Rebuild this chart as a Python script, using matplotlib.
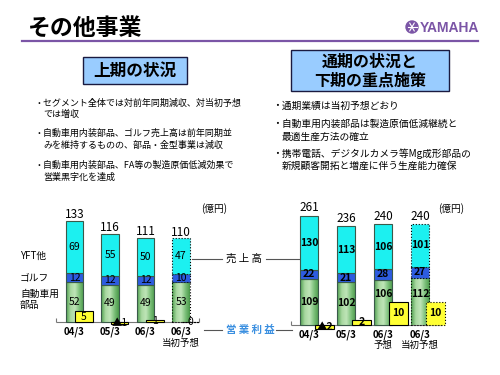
import matplotlib
matplotlib.use("Agg")
import matplotlib.pyplot as plt
import numpy as np
from matplotlib.patches import Rectangle, Circle
from matplotlib.colors import LinearSegmentedColormap

plt.rcParams['font.family'] = ['Noto Sans CJK JP', 'DejaVu Sans']

W, H = 500, 375

# 上期 (億円)
h1_cats = ["04/3", "05/3", "06/3", "06/3"]
h1_sub = ["", "", "", "当初予想"]
h1_auto = [52, 49, 49, 53]
h1_golf = [12, 12, 12, 10]
h1_yft = [69, 55, 50, 47]
h1_total = [133, 116, 111, 110]
h1_profit = [5, -1, 1, 0]

# 通期 (億円)
fy_cats = ["04/3", "05/3", "06/3", "06/3"]
fy_sub = ["", "", "予想", "当初予想"]
fy_auto = [109, 102, 106, 112]
fy_golf = [22, 21, 28, 27]
fy_yft = [130, 113, 106, 101]
fy_total = [261, 236, 240, 240]
fy_profit = [-2, 2, 10, 10]

left_bullets = [
    ["セグメント全体では対前年同期減収、対当初予想", "では増収"],
    ["自動車用内装部品、ゴルフ売上高は前年同期並", "みを維持するものの、部品・金型事業は減収"],
    ["自動車用内装部品、FA等の製造原価低減効果で", "営業黒字化を達成"],
]
right_bullets = [
    ["通期業績は当初予想どおり"],
    ["自動車用内装部品は製造原価低減継続と", "最適生産方法の確立"],
    ["携帯電話、デジタルカメラ等Mg成形部品の", "新規顧客開拓と増産に伴う生産能力確保"],
]

CYAN = '#1cf0f0'
BLUE = '#2d5ce0'
YELLOW = '#ffff33'
PURPLE = '#7b55a6'
green_cmap = LinearSegmentedColormap.from_list('g', ['#4f9f4f', '#a8d8a0', '#bfe5b8', '#7cc07a', '#4a9a4a'])

fig = plt.figure(figsize=(5, 3.75), dpi=100)

# 背景 (ピクセル座標)
bg = fig.add_axes([0, 0, 1, 1])
bg.set_xlim(0, W)
bg.set_ylim(H, 0)
bg.axis('off')

bg.text(28, 28, "その他事業", fontsize=16.5, fontweight='bold', ha='left', va='center')
bg.plot([22, 478], [41, 41], color=PURPLE, lw=1.6)

# YAMAHA ロゴ
bg.add_patch(Circle((412, 27), 6, color=PURPLE))
for a in (0, 60, 120):
    r = np.deg2rad(a)
    bg.plot([412 - 4.5 * np.cos(r), 412 + 4.5 * np.cos(r)],
            [27 - 4.5 * np.sin(r), 27 + 4.5 * np.sin(r)], color='white', lw=0.8)
bg.text(420, 28, "YAMAHA", fontsize=10, fontweight='bold', color=PURPLE,
        family='Liberation Sans', ha='left', va='center')

# 見出しボックス
bg.add_patch(Rectangle((83, 57), 104, 27, facecolor='#99ccff', edgecolor='#1a1a40', lw=1))
bg.text(135, 71, "上期の状況", fontsize=12, fontweight='bold', ha='center', va='center')
bg.add_patch(Rectangle((291, 50), 158, 41, facecolor='#99ccff', edgecolor='#1a1a40', lw=1))
bg.text(370, 62, "通期の状況と", fontsize=11.5, fontweight='bold', ha='center', va='center')
bg.text(370, 81, "下期の重点施策", fontsize=11.5, fontweight='bold', ha='center', va='center')

# 箇条書き
def bullets(items, xt, ys, fs):
    k = 0
    for item in items:
        for j, line in enumerate(item):
            if j == 0:
                bg.text(xt, ys[k], "・" + line, fontsize=fs, ha='left', va='center')
            else:
                bg.text(xt + fs * 100 / 72, ys[k], line, fontsize=fs, ha='left', va='center')
            k += 1

bullets(left_bullets, 34.5, [103, 114, 133, 145, 165, 177], 6.5)
bullets(right_bullets, 272, [106, 124, 137, 154, 166], 7)

# 凡例・中央ラベル
bg.text(214, 209, "(億円)", fontsize=7, ha='center', va='center')
bg.text(451, 209, "(億円)", fontsize=7, ha='center', va='center')
bg.text(20, 256, "YFT他", fontsize=7, ha='left', va='center')
bg.text(20, 278, "ゴルフ", fontsize=7, ha='left', va='center')
bg.text(20, 294, "自動車用", fontsize=7, ha='left', va='center')
bg.text(20, 305, "部品", fontsize=7, ha='left', va='center')

bg.text(244, 259, "売 上 高", fontsize=7.5, ha='center', va='center')
bg.plot([192, 222], [259, 259], color='#555555', lw=0.8)
bg.plot([266, 299], [259, 259], color='#555555', lw=0.8)
bg.text(250, 330, "営 業 利 益", fontsize=7.5, fontweight='bold', color='#3a8fe0', ha='center', va='center')
bg.plot([204, 222], [330, 330], color='#555555', lw=0.8)
bg.plot([276, 292], [330, 330], color='#555555', lw=0.8)


def px_rect(x0, x1, y0, y1):
    return [x0 / W, 1 - y1 / H, (x1 - x0) / W, (y1 - y0) / H]


def draw_chart(box, xlim, sscale, pscale, base, cats, subs, auto, golf, yft, total, profit,
               off, bold, tot_pad):
    y0, y1 = box[2], box[3]
    below, above = y1 - base[2], base[2] - y0
    ax = fig.add_axes(px_rect(*box))
    ax.patch.set_alpha(0)
    x = np.arange(len(cats))
    w = 0.49
    fw = 'bold' if bold else 'normal'
    grad = np.linspace(0, 1, 64).reshape(1, -1)
    for i in range(len(cats)):
        est = i == len(cats) - 1
        ls = ':' if est else '-'
        ec = 'black' if est else '#3a5a4a'
        b = ax.bar(x[i], auto[i], w, color='none', edgecolor=ec, linestyle=ls, lw=0.8, zorder=3)
        im = ax.imshow(grad, extent=(x[i] - w / 2, x[i] + w / 2, 0, auto[i]), cmap=green_cmap,
                       aspect='auto', zorder=2)
        im.set_clip_path(b.patches[0])
        ax.bar(x[i], golf[i], w, bottom=auto[i], color=BLUE, edgecolor=ec, linestyle=ls, lw=0.8, zorder=3)
        ax.bar(x[i], yft[i], w, bottom=auto[i] + golf[i], color=CYAN, edgecolor=ec, linestyle=ls,
               lw=0.8, zorder=3)
        # 利益バーに隠れないよう部品ラベルを上へ
        ya = max(auto[i] / 2, (max(profit[i], 0) * pscale + 8) / sscale)
        ax.text(x[i], ya, str(auto[i]), fontsize=7.5, fontweight=fw, ha='center', va='center', zorder=4)
        ax.text(x[i], auto[i] + golf[i] / 2, str(golf[i]), fontsize=7.5, fontweight=fw,
                ha='center', va='center', zorder=4)
        ax.text(x[i], auto[i] + golf[i] + yft[i] / 2, str(yft[i]), fontsize=7.5, fontweight=fw,
                ha='center', va='center', zorder=4)
        ax.annotate(str(total[i]), (x[i], total[i]), xytext=(0, tot_pad), textcoords='offset points',
                    fontsize=8.5, ha='center', va='center')
    ax.hlines(0, base[0], base[1], color='#777777', lw=0.8, zorder=1)
    ax.vlines(base[:2], 0, 4 / sscale, color='#777777', lw=0.8, zorder=1)
    ax.set_xlim(*xlim)
    ax.set_ylim(-below / sscale, above / sscale)
    ax.set_xticks([])
    ax.set_yticks([])
    for s in ax.spines.values():
        s.set_visible(False)
    for i in range(len(cats)):
        ax.text(x[i], (y1 - (base[2] + 10)) / (y1 - y0), cats[i], transform=ax.get_xaxis_transform(),
                fontsize=7, fontweight='bold', ha='center', va='center')
        if subs[i]:
            ax.text(x[i], (y1 - (base[2] + 21)) / (y1 - y0), subs[i], transform=ax.get_xaxis_transform(),
                    fontsize=6.8, ha='center', va='center')

    ax2 = ax.twinx()
    for i in range(len(cats)):
        est = i == len(cats) - 1
        ax2.bar(x[i] + off, profit[i], w, color=YELLOW, edgecolor='black',
                linestyle=':' if est else '-', lw=0.8, clip_on=False, zorder=3)
        lab = ("▲" + str(-profit[i])) if profit[i] < 0 else str(profit[i])
        ax2.text(x[i] + off, profit[i] / 2, lab, fontsize=7.5, fontweight=fw,
                 ha='center', va='center', zorder=4)
    ax2.set_ylim(-below / pscale, above / pscale)
    ax2.set_yticks([])
    for s in ax2.spines.values():
        s.set_visible(False)


# 上期: 基準線 y=322, 0.76px/億円 (売上), 2.2px/億円 (利益)
draw_chart((50, 205, 200, 326), ((50 - 74.5) / 35.5, (205 - 74.5) / 35.5), 0.76, 2.2,
           ((56 - 74.5) / 35.5, (199 - 74.5) / 35.5, 322),
           h1_cats, h1_sub, h1_auto, h1_golf, h1_yft, h1_total, h1_profit, 0.27, False, 4.5)

# 通期: 基準線 y=324.5, 0.417px/億円 (売上), 2.23px/億円 (利益)
draw_chart((285, 450, 200, 328), ((285 - 309) / 37, (450 - 309) / 37), 0.417, 2.23,
           ((291 - 309) / 37, (442 - 309) / 37, 324.5),
           fy_cats, fy_sub, fy_auto, fy_golf, fy_yft, fy_total, fy_profit, 0.42, True, 5.8)

fig.savefig("out.png", dpi=100)
